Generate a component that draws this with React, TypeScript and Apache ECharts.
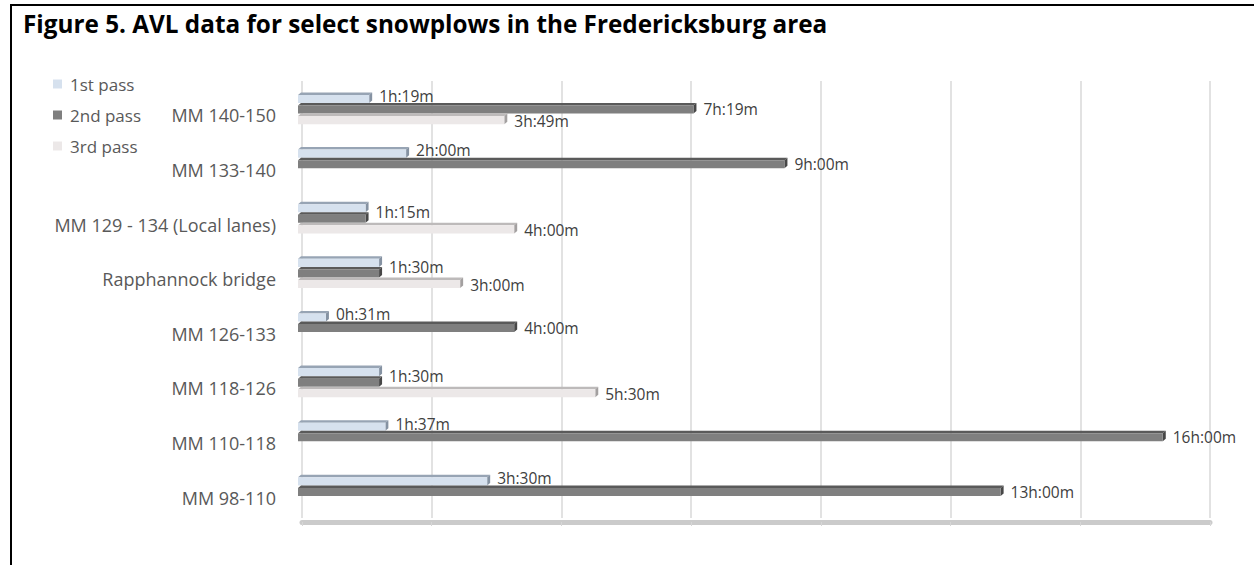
import React, { useEffect, useRef } from "react";
import * as echarts from "echarts";

const categories = [
  "MM 140-150",
  "MM 133-140",
  "MM 129 - 134 (Local lanes)",
  "Rapphannock bridge",
  "MM 126-133",
  "MM 118-126",
  "MM 110-118",
  "MM 98-110",
];
const seriesNames = ["1st pass", "2nd pass", "3rd pass"];
// durations in minutes
const firstPass: (number | null)[] = [79, 120, 75, 90, 31, 90, 97, 210];
const secondPass: (number | null)[] = [439, 540, 75, 90, 240, 90, 960, 780];
const thirdPass: (number | null)[] = [229, null, 240, 180, null, 330, null, null];
const axisMax = 1008; // 0.7 day in minutes
const axisInterval = 144; // 0.1 day in minutes

const fmt = (m: number) => `${Math.floor(m / 60)}h:${String(m % 60).padStart(2, "0")}m`;

const palettes = [
  { front: "#d6e1ee", top: "#97a4b4", side: "#8592a2" },
  { front: "#7f7f7f", top: "#5a5a5a", side: "#474747" },
  { front: "#ece8e8", top: "#bdbaba", side: "#a3a0a0" },
];
const labelDy = [-2, 1, 2];

export default function App() {
  const ref = useRef<HTMLDivElement>(null);
  useEffect(() => {
    document.body.style.margin = "0";
    if (!ref.current) return;
    const chart = echarts.init(ref.current, undefined, { renderer: "svg" });
    const all = [firstPass, secondPass, thirdPass];
    const font = '"Open Sans", "Noto Sans", sans-serif';

    const makeRender = (si: number) => (params: any, api: any) => {
      const v = api.value(0);
      if (v == null || isNaN(v)) return null;
      const cat = api.value(1);
      const endPt = api.coord([v, cat]);
      const startPt = api.coord([0, cat]);
      const band = api.size([0, 1])[1];
      const slot = band * 0.193;
      const yc = endPt[1];
      const top = yc - 1.5 * slot + si * slot;
      const dx = 3;
      const dy = 2.5;
      const shift = -4;
      const xs = startPt[0] + shift;
      const xe = endPt[0] + shift;
      const p = palettes[si];
      let showLabel = true;
      let ly = top + slot / 2 + labelDy[si];
      if (si === 1 && firstPass[cat] === v) showLabel = false;
      if (si === 0 && secondPass[cat] === v) ly = top + slot;
      const children: any[] = [
        {
          type: "polygon",
          shape: { points: [[xs, top + dy], [xs + dx, top], [xe + dx, top], [xe, top + dy]] },
          style: { fill: p.top },
        },
        {
          type: "polygon",
          shape: { points: [[xe, top + dy], [xe + dx, top], [xe + dx, top + slot - dy], [xe, top + slot]] },
          style: { fill: p.side },
        },
        {
          type: "rect",
          shape: { x: xs, y: top + dy, width: Math.max(0, xe - xs), height: slot - dy },
          style: { fill: p.front },
        },
      ];
      if (showLabel) {
        children.push({
          type: "text",
          style: {
            text: fmt(v),
            x: xe + 10,
            y: ly,
            verticalAlign: "middle",
            align: "left",
            fill: "#404040",
            fontSize: 15.5,
            fontFamily: font,
          },
        });
      }
      return { type: "group", children };
    };

    const series = all.map((arr, si) => ({
      name: seriesNames[si],
      type: "custom",
      renderItem: makeRender(si),
      encode: { x: 0, y: 1 },
      itemStyle: { color: palettes[si].front },
      data: arr
        .map((v, i) => (v == null ? null : [v, i]))
        .filter((d) => d !== null),
    }));

    chart.setOption({
      animation: false,
      title: {
        text: "Figure 5. AVL data for select snowplows in the Fredericksburg area",
        left: 23,
        top: 8,
        padding: 0,
        textStyle: { fontSize: 24.3, fontWeight: "bold", color: "#000", fontFamily: font, lineHeight: 30 },
      },
      legend: {
        data: seriesNames,
        orient: "vertical",
        left: 53,
        top: 74,
        padding: 0,
        icon: "rect",
        itemWidth: 9,
        itemHeight: 9,
        itemGap: 11,
        textStyle: { fontSize: 17, color: "#595959", fontFamily: font, lineHeight: 20, padding: [0, 0, 0, 3] },
      },
      grid: { left: 302, right: 44, top: 81, bottom: 47, containLabel: false },
      xAxis: {
        type: "value",
        min: 0,
        max: axisMax,
        interval: axisInterval,
        offset: 4,
        axisLabel: { show: false },
        axisLine: { show: true, lineStyle: { color: "#cbcbcb", width: 5 } },
        axisTick: { show: true, length: 4, lineStyle: { color: "#d6d6d6" } },
        splitLine: { show: true, lineStyle: { color: "#d9d9d9", width: 1.5 } },
      },
      yAxis: {
        type: "category",
        data: categories,
        inverse: true,
        axisLine: { show: false },
        axisTick: { show: false },
        splitLine: { show: false },
        axisLabel: {
          fontSize: 18,
          color: "#595959",
          fontFamily: font,
          margin: 26,
          verticalAlign: "top",
          lineHeight: 14,
        },
      },
      series,
    });
    return () => chart.dispose();
  }, []);

  return (
    <div style={{ position: "relative", width: 1254, height: 565, background: "#fff" }}>
      <div ref={ref} style={{ position: "absolute", left: 0, top: 0, width: 1254, height: 565 }} />
      <div
        style={{
          position: "absolute",
          left: 10,
          top: 4,
          width: 1244,
          height: 561,
          borderTop: "2px solid #000",
          borderLeft: "2px solid #000",
          boxSizing: "border-box",
          pointerEvents: "none",
        }}
      />
    </div>
  );
}
